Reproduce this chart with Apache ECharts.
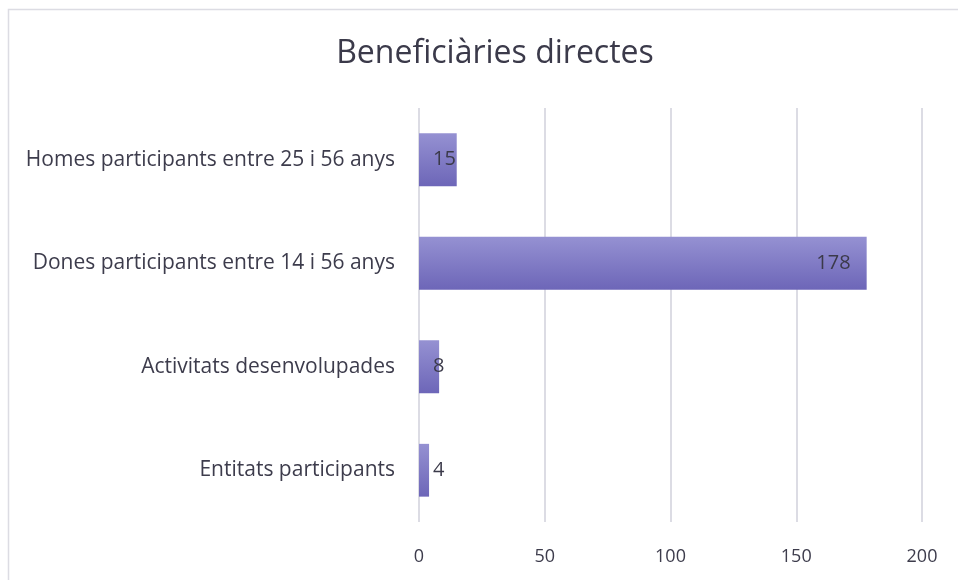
<!DOCTYPE html>
<html>
<head>
<meta charset="utf-8">
<script src="https://cdn.jsdelivr.net/npm/echarts@6/dist/echarts.min.js"></script>
<style>html,body{margin:0;padding:0;background:#fff;}#c{width:958px;height:580px;}</style>
</head>
<body>
<div id="c"></div>
<script>
var titleText = 'Beneficiàries directes';
var categories = ['Homes participants entre 25 i 56 anys', 'Dones participants entre 14 i 56 anys', 'Activitats desenvolupades', 'Entitats participants'];
var values = [15, 178, 8, 4];
var tickMin = 0, tickMax = 200, tickStep = 50;

var font = '"Open Sans", sans-serif';
var textColor = '#3d3c4c';
var chart = echarts.init(document.getElementById('c'));
var data = values.map(function (v) {
  return {
    value: v,
    label: v > 50 ? { position: 'insideRight', distance: 16 } : { position: [14, '50%'], verticalAlign: 'middle' }
  };
});
chart.setOption({
  animation: false,
  graphic: [{
    type: 'rect', shape: { x: 8.5, y: 9.5, width: 1000, height: 700 },
    style: { fill: 'none', stroke: '#dcdce3', lineWidth: 1.5 }, silent: true, z: -1
  }],
  title: {
    text: titleText, left: 490, textAlign: 'center', top: 33,
    textStyle: { fontFamily: font, fontSize: 32, fontWeight: 'normal', color: '#3b3a4a' }
  },
  grid: { left: 419, right: 36, top: 108, bottom: 58, containLabel: false },
  xAxis: {
    type: 'value', min: tickMin, max: tickMax, interval: tickStep,
    axisLine: { show: false }, axisTick: { show: false },
    axisLabel: { margin: 26, fontFamily: font, fontSize: 18, color: textColor },
    splitLine: { lineStyle: { color: '#dcdce4', width: 2 } }
  },
  yAxis: {
    type: 'category', data: categories, inverse: true,
    axisLine: { show: false }, axisTick: { show: false },
    axisLabel: { margin: 24, fontFamily: font, fontSize: 21, color: textColor }
  },
  series: [{
    type: 'bar', data: data, barWidth: '51%',
    itemStyle: {
      color: new echarts.graphic.LinearGradient(0, 0, 0, 1, [
        { offset: 0, color: '#9591d2' }, { offset: 1, color: '#6d66b8' }
      ])
    },
    label: { show: true, fontFamily: font, fontSize: 20, color: '#3b3a4a' }
  }]
});
</script>
</body>
</html>
